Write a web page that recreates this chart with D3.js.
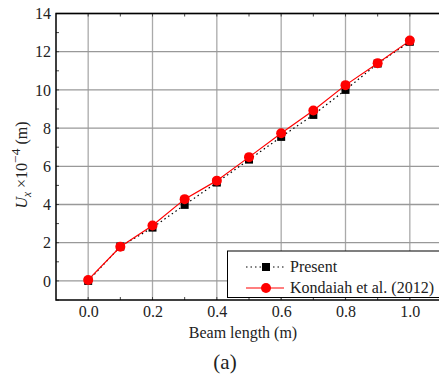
<!DOCTYPE html>
<html>
<head>
<meta charset="utf-8">
<script src="https://cdn.jsdelivr.net/npm/d3@7"></script>
<style>
  body { margin: 0; background: #fff; }
  svg text { font-family: "Liberation Serif", "Times New Roman", serif; fill: #222; }
</style>
</head>
<body>
<svg id="chart" width="439" height="377"></svg>
<script>
const WIDTH = 439, HEIGHT = 377;
const M = {left: 56, top: 13.5, right: 442, bottom: 300};
const FONT = "'Liberation Serif', 'Times New Roman', serif";
const FS = 16;

// beam positions (m)
var beam_x = [0.0, 0.1, 0.2, 0.3, 0.4, 0.5, 0.6, 0.7, 0.8, 0.9, 1.0];
// U_x x 10^-4 (m)
var present = [0.0, 1.8, 2.79, 3.98, 5.15, 6.35, 7.54, 8.69, 10.0, 11.38, 12.52];
var kondaiah = [0.05, 1.79, 2.9, 4.28, 5.25, 6.48, 7.73, 8.92, 10.25, 11.4, 12.58];
var x_ticks = [0.0, 0.2, 0.4, 0.6, 0.8, 1.0];
var y_ticks = [0, 2, 4, 6, 8, 10, 12, 14];
var legend_names = ["Present", "Kondaiah et al. (2012)"];

var svg = d3.select("#chart").style("font-family", FONT);
var x = d3.scaleLinear().domain([-0.1, 1.1]).range([M.left, M.right]);
var y = d3.scaleLinear().domain([-1, 14]).range([M.bottom, M.top]);

// grid
var grid = svg.append("g");
x_ticks.forEach(function(t) {
    grid.append("line")
        .attr("x1", x(t)).attr("x2", x(t))
        .attr("y1", M.top).attr("y2", M.bottom)
        .attr("stroke", "#aaa").attr("stroke-width", 1.3);
});
y_ticks.forEach(function(t) {
    grid.append("line")
        .attr("x1", M.left).attr("x2", M.right)
        .attr("y1", y(t)).attr("y2", y(t))
        .attr("stroke", "#999").attr("stroke-width", 1.3);
});

// minor inward ticks
var minor = svg.append("g").attr("stroke", "#444").attr("stroke-width", 1);
d3.range(-1, 14.01, 1).forEach(function(t) {
    minor.append("line").attr("x1", M.left).attr("x2", M.left + 3)
        .attr("y1", y(t)).attr("y2", y(t));
});
d3.range(0, 1.01, 0.1).forEach(function(t) {
    minor.append("line").attr("x1", x(t)).attr("x2", x(t))
        .attr("y1", M.bottom).attr("y2", M.bottom - 3);
    minor.append("line").attr("x1", x(t)).attr("x2", x(t))
        .attr("y1", M.top).attr("y2", M.top + 3);
});

// frame
svg.append("rect")
    .attr("x", M.left).attr("y", M.top)
    .attr("width", M.right - M.left).attr("height", M.bottom - M.top)
    .attr("fill", "none").attr("stroke", "#000").attr("stroke-width", 1.5);

// tick labels
var x_axis = d3.axisBottom(x).tickValues(x_ticks).tickFormat(d3.format(".1f")).tickSize(0).tickPadding(6);
var gx = svg.append("g").attr("transform", "translate(0," + M.bottom + ")").call(x_axis)
    .attr("font-family", FONT).attr("font-size", FS);
gx.select(".domain").remove();
gx.selectAll("text").attr("fill", "#222");

var y_axis = d3.axisLeft(y).tickValues(y_ticks).tickSize(0).tickPadding(5);
var gy = svg.append("g").attr("transform", "translate(" + M.left + ",0)").call(y_axis)
    .attr("font-family", FONT).attr("font-size", FS);
gy.select(".domain").remove();
gy.selectAll("text").attr("fill", "#222");

svg.append("text")
    .attr("x", 243).attr("y", 338)
    .attr("text-anchor", "middle").attr("font-size", FS)
    .text("Beam length (m)");

svg.append("text")
    .attr("x", 225).attr("y", 369)
    .attr("text-anchor", "middle").attr("font-size", 21)
    .text("(a)");

var ylab = svg.append("text")
    .attr("transform", "translate(27,165) rotate(-90)")
    .attr("text-anchor", "middle").attr("font-size", FS);
ylab.append("tspan").attr("font-style", "italic").text("U");
ylab.append("tspan").attr("font-style", "italic").attr("font-size", 11.5).attr("dy", 4).text("x");
ylab.append("tspan").attr("dy", -4).text(" \u00d710");
ylab.append("tspan").attr("font-size", 13.5).attr("dy", -7).text("\u22124");
ylab.append("tspan").attr("dy", 7).text(" (m)");

// series
var plot = svg.append("g");
var series_line = d3.line().x(function(d, i) { return x(beam_x[i]); }).y(function(d) { return y(d); });

plot.append("path").datum(present)
    .attr("d", series_line)
    .attr("fill", "none").attr("stroke", "#000").attr("stroke-width", 1.2)
    .attr("stroke-dasharray", "1.5,3");
plot.selectAll(".sq").data(present).enter().append("rect")
    .attr("x", function(d, i) { return x(beam_x[i]) - 4; })
    .attr("y", function(d) { return y(d) - 4; })
    .attr("width", 8).attr("height", 8)
    .attr("fill", "#000");

plot.append("path").datum(kondaiah)
    .attr("d", series_line)
    .attr("fill", "none").attr("stroke", "#f00").attr("stroke-width", 1.2);
plot.selectAll(".ci").data(kondaiah).enter().append("circle")
    .attr("cx", function(d, i) { return x(beam_x[i]); })
    .attr("cy", function(d) { return y(d); })
    .attr("r", 5)
    .attr("fill", "#f00");

// legend
var lg = svg.append("g");
lg.append("rect")
    .attr("x", 227.5).attr("y", 251).attr("width", 230).attr("height", 46.5)
    .attr("fill", "#fff").attr("stroke", "#000").attr("stroke-width", 1);
lg.append("line").attr("x1", 246).attr("x2", 284).attr("y1", 267).attr("y2", 267)
    .attr("stroke", "#000").attr("stroke-width", 1.2).attr("stroke-dasharray", "1.5,3");
lg.append("rect").attr("x", 262).attr("y", 263).attr("width", 8).attr("height", 8).attr("fill", "#000");
lg.append("line").attr("x1", 246).attr("x2", 284).attr("y1", 288).attr("y2", 288)
    .attr("stroke", "#f00").attr("stroke-width", 1.2);
lg.append("circle").attr("cx", 266).attr("cy", 288).attr("r", 5).attr("fill", "#f00");
legend_names.forEach(function(n, i) {
    lg.append("text").attr("x", 290).attr("y", 272 + i * 20.5)
        .attr("font-size", FS).text(n);
});
</script>
</body>
</html>
